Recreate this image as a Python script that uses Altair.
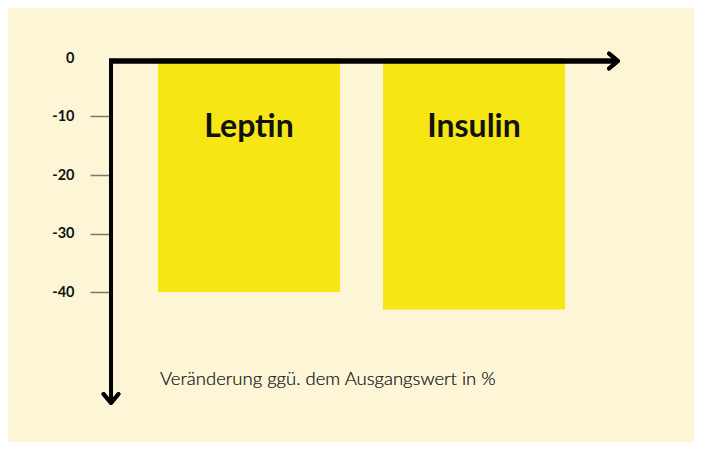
import altair as alt
import pandas as pd

names = ["Leptin", "Insulin"]
values = [-40, -43]
tick_values = [0, -10, -20, -30, -40]
subtitle = "Veränderung ggü. dem Ausgangswert in %"

df = pd.DataFrame({"name": names, "value": values})

BG = "#FDF6D6"
BAR = "#F5E614"

yscale = alt.Scale(domain=[-60, 0], nice=False, zero=False)
xscale = alt.Scale(domain=names, paddingInner=0.191, paddingOuter=0.209)

bars = alt.Chart(df).mark_bar(color=BAR).encode(
    x=alt.X("name:N", sort=names, scale=xscale, axis=None),
    y=alt.Y(
        "value:Q",
        scale=yscale,
        axis=alt.Axis(
            values=tick_values,
            title=None,
            domain=False,
            grid=False,
            tickSize=21,
            tickWidth=1.5,
            tickColor={"condition": {"test": "datum.value === 0", "value": "transparent"}, "value": "#777777"},
            labelPadding=16,
            labelExpr="'' + datum.value",
            labelFont="Lato",
            labelFontWeight="bold",
            labelFontSize=14.5,
            labelColor="#111111",
        ),
    ),
)

labels = alt.Chart(df).mark_text(
    font="Lato", fontWeight="bold", fontSize=32, color="#111111",
    baseline="alphabetic", align="center",
).encode(
    x=alt.X("name:N", sort=names, scale=xscale, axis=None),
    y=alt.value(79),
    text="name:N",
)

hline = alt.Chart(df).mark_rule(color="#000000", strokeWidth=5, yOffset=3).encode(
    y=alt.datum(0), x=alt.value(-2), x2=alt.value(506)
)

vline = alt.Chart(df).mark_rule(color="#000000", strokeWidth=4).encode(
    x=alt.value(0), y=alt.value(1), y2=alt.value(344)
)

harrow = alt.Chart(df).mark_point(
    shape="M-1.2,-1L0,0L-1.2,1", filled=False, color="#000000",
    strokeWidth=4, size=225, opacity=1, yOffset=3, strokeJoin="round", strokeCap="round",
).encode(x=alt.value(507), y=alt.datum(0))

varrow = alt.Chart(df).mark_point(
    shape="M-1,-1.2L0,0L1,-1.2", filled=False, color="#000000",
    strokeWidth=4, size=225, opacity=1, strokeJoin="round", strokeCap="round",
).encode(x=alt.value(0), y=alt.value(345))

sub = alt.Chart(df).mark_text(
    text=subtitle, font="Lato", fontWeight=300, fontSize=18.5, color="#333333",
    align="left", baseline="middle",
).encode(x=alt.value(49), y=alt.value(321))

chart = alt.layer(bars, labels, hline, vline, harrow, varrow, sub).properties(
    width=501,
    height=351,
    autosize=alt.AutoSizeParams(type="none"),
    padding={"left": 103, "top": 50, "right": 82, "bottom": 33},
    background=BG,
).configure_view(stroke=None)

chart.save("out.html", embed_options={"renderer": "svg", "actions": False})
